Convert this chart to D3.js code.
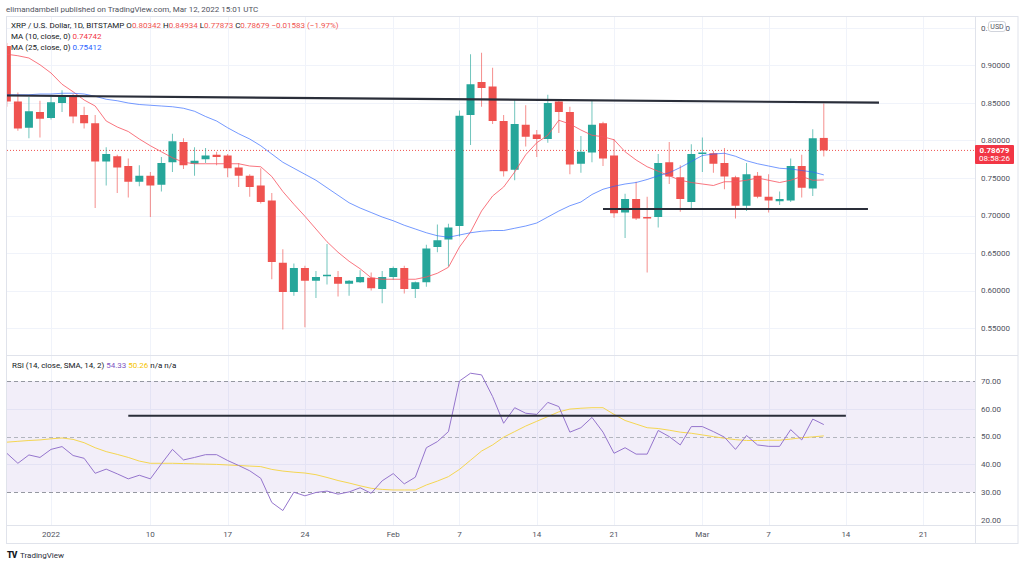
<!DOCTYPE html>
<html><head><meta charset="utf-8">
<script src="https://cdn.jsdelivr.net/npm/d3@7"></script>
<style>
body{margin:0;background:#fff;}
svg{display:block;}
text{font-family:Roboto,"Open Sans",sans-serif;}
</style>
</head><body>
<svg id="c" width="1024" height="565"></svg>
<script>
// ---------- DATA ----------
const firstDay = "2021-12-28";
const lastDay = "2022-03-12";
const opens  = [0.926,0.852,0.817,0.838,0.830,0.850,0.860,0.834,0.823,0.772,0.779,0.766,0.745,0.753,0.741,0.771,0.798,0.769,0.775,0.781,0.780,0.764,0.753,0.740,0.720,0.637,0.598,0.630,0.613,0.619,0.618,0.609,0.611,0.617,0.602,0.618,0.630,0.602,0.611,0.658,0.668,0.686,0.834,0.878,0.872,0.826,0.761,0.821,0.808,0.802,0.852,0.838,0.769,0.784,0.823,0.780,0.704,0.722,0.698,0.698,0.771,0.751,0.718,0.782,0.783,0.770,0.751,0.713,0.753,0.725,0.719,0.720,0.766,0.736,0.80342];
const highs  = [0.930,0.864,0.858,0.853,0.858,0.867,0.862,0.845,0.834,0.791,0.781,0.776,0.767,0.758,0.778,0.809,0.803,0.791,0.790,0.785,0.782,0.770,0.755,0.763,0.730,0.655,0.636,0.633,0.626,0.662,0.626,0.614,0.627,0.624,0.626,0.632,0.633,0.612,0.661,0.688,0.689,0.840,0.915,0.917,0.897,0.834,0.854,0.847,0.814,0.861,0.855,0.845,0.806,0.854,0.825,0.802,0.729,0.745,0.725,0.782,0.798,0.767,0.795,0.804,0.786,0.790,0.753,0.770,0.758,0.755,0.732,0.776,0.781,0.815,0.84934];
const lows   = [0.845,0.813,0.803,0.804,0.828,0.838,0.823,0.816,0.710,0.740,0.730,0.724,0.739,0.698,0.732,0.758,0.762,0.753,0.770,0.767,0.751,0.738,0.725,0.716,0.615,0.548,0.593,0.551,0.590,0.608,0.592,0.593,0.610,0.600,0.583,0.614,0.596,0.590,0.605,0.651,0.632,0.672,0.794,0.845,0.822,0.752,0.747,0.792,0.778,0.797,0.810,0.755,0.757,0.771,0.766,0.697,0.670,0.694,0.624,0.684,0.742,0.705,0.710,0.758,0.757,0.735,0.696,0.706,0.723,0.704,0.714,0.718,0.724,0.726,0.77873];
const closes = [0.852,0.816,0.839,0.829,0.851,0.860,0.832,0.823,0.772,0.782,0.764,0.745,0.753,0.740,0.770,0.799,0.767,0.773,0.780,0.778,0.763,0.753,0.738,0.718,0.638,0.598,0.630,0.613,0.618,0.621,0.609,0.613,0.618,0.603,0.618,0.630,0.602,0.611,0.656,0.667,0.684,0.833,0.875,0.870,0.826,0.759,0.822,0.805,0.802,0.850,0.838,0.768,0.785,0.821,0.776,0.703,0.722,0.696,0.696,0.770,0.752,0.722,0.782,0.784,0.769,0.752,0.713,0.755,0.725,0.720,0.722,0.766,0.737,0.803,0.78679];
const ma10   = [0.915,0.913,0.910,0.901,0.890,0.875,0.865,0.854,0.846,0.826,0.818,0.812,0.802,0.793,0.785,0.777,0.771,0.769,0.769,0.769,0.769,0.769,0.766,0.765,0.752,0.732,0.715,0.699,0.682,0.665,0.651,0.639,0.629,0.617,0.615,0.615,0.615,0.615,0.618,0.623,0.631,0.658,0.678,0.706,0.726,0.738,0.758,0.781,0.797,0.807,0.827,0.822,0.814,0.807,0.805,0.801,0.785,0.774,0.765,0.759,0.753,0.747,0.744,0.742,0.740,0.745,0.745,0.747,0.750,0.747,0.744,0.747,0.752,0.747,0.74742];
const ma25   = [0.861,0.861,0.861,0.862,0.862,0.863,0.863,0.862,0.859,0.855,0.853,0.850,0.848,0.847,0.846,0.845,0.843,0.839,0.832,0.826,0.817,0.809,0.802,0.793,0.782,0.771,0.763,0.755,0.747,0.737,0.727,0.717,0.710,0.704,0.698,0.693,0.687,0.682,0.677,0.673,0.671,0.674,0.677,0.679,0.680,0.680,0.683,0.686,0.690,0.698,0.706,0.713,0.718,0.728,0.735,0.739,0.742,0.744,0.748,0.753,0.757,0.764,0.772,0.780,0.782,0.783,0.779,0.773,0.769,0.766,0.763,0.762,0.760,0.758,0.75412];
const rsi    = [44.0,40.4,43.4,42.5,45.4,46.4,43.2,42.2,36.8,38.3,36.6,34.8,36.1,34.8,40.2,45.4,41.6,42.5,43.5,43.5,41.4,39.6,37.7,35.0,26.3,23.4,30.0,28.7,29.9,30.4,29.3,30.1,31.6,29.6,34.1,36.7,33.0,35.4,46.0,48.2,51.8,70.0,72.8,72.2,64.4,54.8,60.4,58.4,58.0,62.3,60.8,51.6,53.2,56.9,51.6,44.0,46.0,43.7,43.7,52.2,50.0,47.0,53.6,53.6,51.8,49.8,45.4,50.4,47.0,46.5,46.5,52.5,48.8,56.3,54.33];
const rsiSma = [48.0,48.3,48.6,48.8,49.2,49.5,49.0,47.8,46.0,44.6,43.6,42.5,41.2,40.4,40.4,40.4,40.3,40.2,40.1,40.0,39.8,39.6,39.4,39.2,38.2,37.6,37.2,36.9,36.3,35.3,34.2,33.3,32.3,31.4,31.0,30.8,30.8,30.8,32.6,34.0,35.6,38.2,41.5,44.8,47.0,49.8,51.8,53.8,55.5,57.2,58.9,59.9,60.2,60.4,60.4,58.0,55.8,54.5,53.2,52.9,52.3,51.6,51.2,50.6,50.0,49.4,48.9,48.6,48.6,48.7,48.7,49.1,49.6,49.9,50.26];

const xTickDates  = ["2022-01-01","2022-01-10","2022-01-17","2022-01-24","2022-02-01","2022-02-07","2022-02-14","2022-02-21","2022-03-01","2022-03-07","2022-03-14","2022-03-21"];
const xTickLabels = ["2022","10","17","24","Feb","7","14","21","Mar","7","14","21"];
const priceTicks  = [0.55,0.60,0.65,0.70,0.75,0.80,0.85,0.90,0.95];
const rsiTicks    = [20,30,40,50,60,70];

const upperTrend = [["2021-12-28",0.8600],["2022-03-17",0.8504]];
const lowerTrend = [["2022-02-20",0.7087],["2022-03-16",0.7087]];
const rsiTrend   = [["2022-01-08",57.5],["2022-03-14",57.5]];

const lastPrice = 0.78679;
const countdown = "08:58:26";

// ---------- SETUP ----------
const parse = d3.utcParse("%Y-%m-%d");
const dates = d3.utcDay.range(parse(firstDay), d3.utcDay.offset(parse(lastDay),1));
const candles = dates.map((d,i)=>({date:d,o:opens[i],h:highs[i],l:lows[i],c:closes[i],ma10:ma10[i],ma25:ma25[i],rsi:rsi[i],sma:rsiSma[i]}));

const UP="#26a69a", DOWN="#ef5350", GRID="#f0f3fa", BORDER="#e0e3eb", TXT="#131722";
const FS=8;
const L=7, R=975, FR=1018, PT=16, PB=355, RT=355, RB=525, XB=543;

const x = d3.scaleUtc().domain([parse("2022-01-01"), parse("2022-03-12")]).range([51, 823.8]);
const y = d3.scaleLinear().domain([0.55,0.95]).range([328,28]);
const yr = d3.scaleLinear().domain([20,70]).range([520,381]);

const svg = d3.select("#c");
const defs = svg.append("defs");
defs.append("clipPath").attr("id","cp").append("rect").attr("x",L).attr("y",PT).attr("width",R-L).attr("height",PB-PT);
defs.append("clipPath").attr("id","cr").append("rect").attr("x",L).attr("y",RT).attr("width",R-L).attr("height",RB-RT);
defs.append("clipPath").attr("id","ctop").append("rect").attr("x",976).attr("y",PT+1).attr("width",42).attr("height",40);

// header
svg.append("text").attr("x",6).attr("y",11.5).attr("font-size",FS).attr("fill","#50535e")
  .text("elimandambell published on TradingView.com, Mar 12, 2022 15:01 UTC");

// grid
const grid = svg.append("g");
xTickDates.forEach(t=>{
  const xx = Math.round(x(parse(t)))+0.5;
  grid.append("line").attr("x1",xx).attr("x2",xx).attr("y1",PT).attr("y2",RB).attr("stroke",GRID);
});
priceTicks.forEach(t=>{
  const yy=Math.round(y(t))+0.5;
  grid.append("line").attr("x1",L).attr("x2",R).attr("y1",yy).attr("y2",yy).attr("stroke",GRID);
});
[40,60].forEach(t=>{
  const yy=Math.round(yr(t))+0.5;
  grid.append("line").attr("x1",L).attr("x2",R).attr("y1",yy).attr("y2",yy).attr("stroke",GRID);
});

// RSI band
svg.append("rect").attr("x",L).attr("width",R-L).attr("y",yr(70)).attr("height",yr(30)-yr(70)).attr("fill","rgba(126,87,194,0.1)");
[[70,"#9598a1"],[50,"#b2b5be"],[30,"#9598a1"]].forEach(([v,c])=>{
  const yy=Math.round(yr(v))+0.5;
  svg.append("line").attr("x1",L).attr("x2",R).attr("y1",yy).attr("y2",yy).attr("stroke",c).attr("stroke-dasharray","4,3");
});

// frame
const fr = svg.append("g").attr("stroke",BORDER).attr("fill","none");
fr.append("rect").attr("x",6.5).attr("y",PT+0.5).attr("width",FR-6.5).attr("height",XB-PT);
fr.append("line").attr("x1",R+0.5).attr("x2",R+0.5).attr("y1",PT).attr("y2",XB);
fr.append("line").attr("x1",6.5).attr("x2",FR).attr("y1",PB+0.5).attr("y2",PB+0.5);
fr.append("line").attr("x1",6.5).attr("x2",FR).attr("y1",RB+0.5).attr("y2",RB+0.5);

// price pane
const pp = svg.append("g").attr("clip-path","url(#cp)");
pp.append("line").attr("x1",L).attr("x2",R).attr("y1",y(lastPrice)).attr("y2",y(lastPrice))
  .attr("stroke",DOWN).attr("stroke-dasharray","1,2").attr("stroke-width",1);

const cg = pp.append("g");
candles.forEach(d=>{
  const cx = x(d.date), col = d.c>=d.o?UP:DOWN;
  cg.append("line").attr("x1",cx).attr("x2",cx).attr("y1",y(d.h)).attr("y2",y(d.l)).attr("stroke",col).attr("stroke-opacity",0.65).attr("stroke-width",1);
  const top=y(Math.max(d.o,d.c)), bot=y(Math.min(d.o,d.c));
  cg.append("rect").attr("x",cx-4).attr("width",8).attr("y",top).attr("height",Math.max(1,bot-top)).attr("fill",col);
});

const lineP = key => d3.line().x(d=>x(d.date)).y(d=>y(d[key]));
pp.append("path").datum(candles).attr("d",lineP("ma10")).attr("fill","none").attr("stroke","#f7525f").attr("stroke-opacity",0.8).attr("stroke-width",1);
pp.append("path").datum(candles).attr("d",lineP("ma25")).attr("fill","none").attr("stroke","#2962ff").attr("stroke-opacity",0.65).attr("stroke-width",1);

const tl = (arr, ys) => d3.line().x(p=>x(parse(p[0]))).y(p=>ys(p[1]))(arr);
pp.append("path").attr("d",tl(upperTrend,y)).attr("stroke","#2a2e39").attr("stroke-width",2.2).attr("fill","none");
pp.append("path").attr("d",tl(lowerTrend,y)).attr("stroke","#2a2e39").attr("stroke-width",2.2).attr("fill","none");

// RSI pane
const rp = svg.append("g").attr("clip-path","url(#cr)");
const lineR = key => d3.line().x(d=>x(d.date)).y(d=>yr(d[key]));
rp.append("path").datum(candles).attr("d",lineR("sma")).attr("fill","none").attr("stroke","#f5d651").attr("stroke-width",1);
rp.append("path").datum(candles).attr("d",lineR("rsi")).attr("fill","none").attr("stroke","#9575cd").attr("stroke-width",1);
rp.append("path").attr("d",tl(rsiTrend,yr)).attr("stroke","#2a2e39").attr("stroke-width",2.2).attr("fill","none");

// legend
const leg = svg.append("g").attr("font-size",FS);
const t1 = leg.append("text").attr("x",11).attr("y",28);
t1.append("tspan").attr("fill",TXT).text("XRP / U.S. Dollar, 1D, BITSTAMP  O");
t1.append("tspan").attr("fill",DOWN).text(d3.format(".5f")(opens[opens.length-1]));
t1.append("tspan").attr("fill",TXT).text(" H");
t1.append("tspan").attr("fill",DOWN).text(d3.format(".5f")(highs[highs.length-1]));
t1.append("tspan").attr("fill",TXT).text(" L");
t1.append("tspan").attr("fill",DOWN).text(d3.format(".5f")(lows[lows.length-1]));
t1.append("tspan").attr("fill",TXT).text(" C");
t1.append("tspan").attr("fill",DOWN).text(d3.format(".5f")(closes[closes.length-1]) + "  −0.01583 (−1.97%)");
const t2 = leg.append("text").attr("x",11).attr("y",38.5);
t2.append("tspan").attr("fill",TXT).text("MA (10, close, 0)  ");
t2.append("tspan").attr("fill","#f23645").text(d3.format(".5f")(ma10[ma10.length-1]));
const t3 = leg.append("text").attr("x",11).attr("y",49.5);
t3.append("tspan").attr("fill",TXT).text("MA (25, close, 0)  ");
t3.append("tspan").attr("fill","#2962ff").text(d3.format(".5f")(ma25[ma25.length-1]));
const t4 = leg.append("text").attr("x",12).attr("y",368);
t4.append("tspan").attr("fill",TXT).text("RSI (14, close, SMA, 14, 2)  ");
t4.append("tspan").attr("fill","#7e57c2").text(d3.format(".2f")(rsi[rsi.length-1]));
t4.append("tspan").attr("fill","#f5c400").text("  " + d3.format(".2f")(rsiSma[rsiSma.length-1]));
t4.append("tspan").attr("fill",TXT).text("  n/a  n/a");

// price axis
const ax = svg.append("g").attr("font-size",FS).attr("fill","#50535e");
priceTicks.forEach(t=>{
  ax.append("text").attr("x",981).attr("y",y(t)+2.8).text(d3.format(".5f")(t));
});
rsiTicks.forEach(t=>{
  ax.append("text").attr("x",981).attr("y",yr(t)+2.8).text(d3.format(".2f")(t));
});
// USD box (covers top tick label as in source)
svg.append("rect").attr("x",988.5).attr("y",21.5).attr("width",17).attr("height",10).attr("rx",2.5)
  .attr("fill","#fff").attr("stroke","#d1d4dc");
svg.append("text").attr("x",997).attr("y",29).attr("text-anchor","middle").attr("font-size",7).attr("fill","#50535e").text("USD");
// last price label
const ly = y(lastPrice);
svg.append("rect").attr("x",975).attr("y",ly-5.5).attr("width",39).attr("height",19).attr("fill","#f23645").attr("rx",1);
svg.append("text").attr("x",994.5).attr("y",ly+2.6).attr("text-anchor","middle").attr("font-size",FS).attr("font-weight","bold").attr("fill","#fff").text(d3.format(".5f")(lastPrice));
svg.append("text").attr("x",994.5).attr("y",ly+11).attr("text-anchor","middle").attr("font-size",FS).attr("fill","#fff").text(countdown);

// x axis labels
xTickDates.forEach((t,i)=>{
  svg.append("text").attr("x",x(parse(t))).attr("y",537).attr("text-anchor","middle").attr("font-size",FS).attr("fill","#50535e").text(xTickLabels[i]);
});

// TradingView logo
svg.append("text").attr("x",7).attr("y",558).attr("font-size",8.5).attr("font-weight","900").attr("fill",TXT).attr("letter-spacing",-0.8).text("TV");
svg.append("text").attr("x",20).attr("y",558).attr("font-size",FS).attr("fill","#2a2e39").text("TradingView");
</script>
</body></html>
